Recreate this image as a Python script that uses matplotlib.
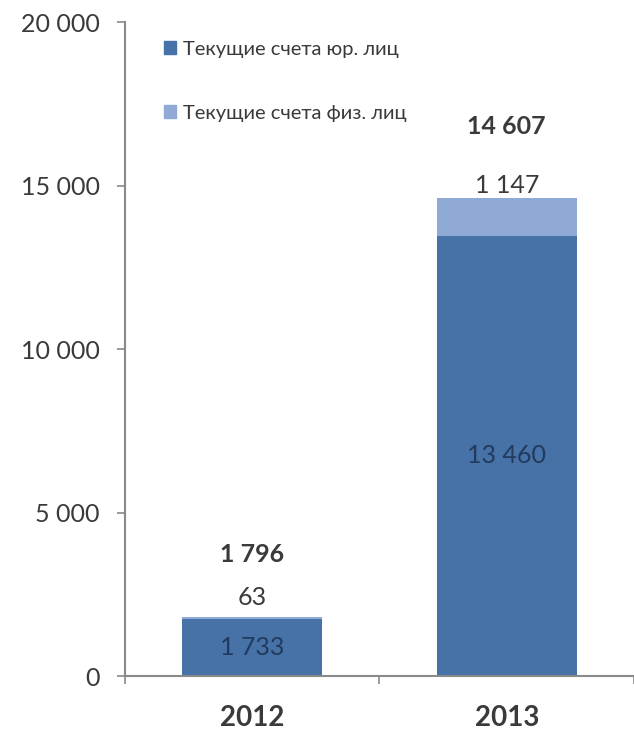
import matplotlib
matplotlib.use("Agg")
import matplotlib.pyplot as plt
from matplotlib.patches import Patch

plt.rcParams['font.family'] = ['Lato', 'DejaVu Sans']

years = ["2012", "2013"]
legal = [1733, 13460]       # текущие счета юр. лиц
personal = [63, 1147]       # текущие счета физ. лиц
totals = [1796, 14607]
series_names = ["Текущие счета юр. лиц", "Текущие счета физ. лиц"]

dark = "#4672A8"
light = "#8FAAD4"
axis_grey = "#8a8a8a"
text_col = "#3a3a3a"

def fmt(v):
    return f"{v:,}".replace(",", " ")

fig = plt.figure(figsize=(6.34, 7.38), dpi=100)
ax = fig.add_axes([0.197, 0.084, 0.803, 0.886])

x = range(len(years))
ax.bar(x, legal, width=0.55, color=dark)
ax.bar(x, personal, width=0.55, bottom=legal, color=light)

ax.set_ylim(0, 20000)
ax.set_xlim(-0.5, 1.5)
ax.set_yticks([0, 5000, 10000, 15000, 20000])
ax.set_yticklabels([fmt(v) for v in [0, 5000, 10000, 15000, 20000]],
                   fontsize=18, color=text_col)
ax.set_xticks([-0.5, 0.5, 1.5])
ax.set_xticklabels([])
ax.tick_params(axis='both', direction='out', length=6, color=axis_grey, width=1.2)
ax.tick_params(axis='y', pad=12)

for i, yr in enumerate(years):
    ax.text(i, -0.045, yr, transform=ax.get_xaxis_transform(), ha='center', va='top',
            fontsize=20, fontweight='bold', color=text_col)

for s in ['top', 'right']:
    ax.spines[s].set_visible(False)
for s in ['left', 'bottom']:
    ax.spines[s].set_color(axis_grey)
    ax.spines[s].set_linewidth(1.5)

# подписи значений
inner_col = "#233a5c"
part_offsets = [14, 9]
total_offsets = [45, 52]
for i in x:
    ax.text(i, legal[i] / 2, fmt(legal[i]), ha='center', va='center',
            fontsize=18, color=inner_col)
    top = legal[i] + personal[i]
    ax.annotate(fmt(personal[i]), (i, top), xytext=(0, part_offsets[i]),
                textcoords='offset points', ha='center', va='center',
                fontsize=18, color=text_col)
    ax.annotate(fmt(totals[i]), (i, top), xytext=(0, total_offsets[i]),
                textcoords='offset points', ha='center', va='center',
                fontsize=18, fontweight='bold', color=text_col)

handles = [Patch(color=dark), Patch(color=light)]
leg = fig.legend(handles, series_names, loc='upper left', bbox_to_anchor=(0.258, 0.945),
                 frameon=False, fontsize=14.5, handlelength=0.6, handleheight=0.6,
                 handletextpad=0.35, labelspacing=2.35, borderpad=0, borderaxespad=0)
for t in leg.get_texts():
    t.set_color(text_col)

fig.savefig("out.png", dpi=100)
